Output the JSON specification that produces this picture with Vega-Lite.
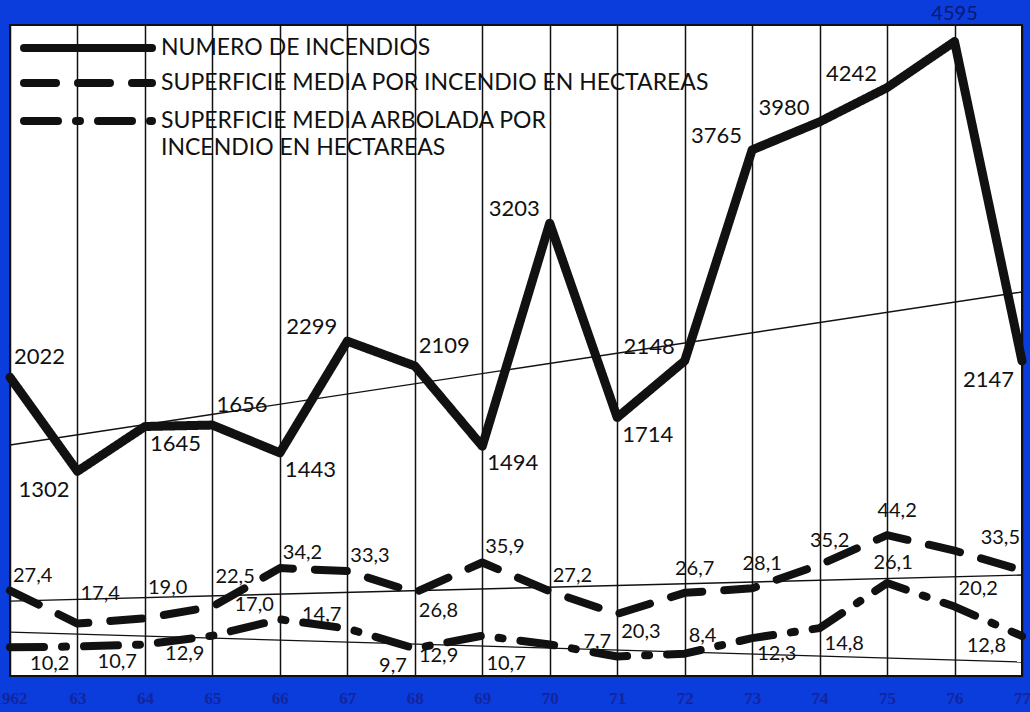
{
  "$schema": "https://vega.github.io/schema/vega-lite/v6.json",
  "width": 1012,
  "height": 651,
  "autosize": {"type": "none"},
  "padding": {"left": 10, "top": 25, "right": 8, "bottom": 36},
  "background": "#0b3cdc",
  "config": {
    "view": {"fill": "white", "stroke": "#111", "strokeWidth": 2},
    "locale": {"number": {"decimal": ",", "thousands": ".", "grouping": [3], "currency": ["", " €"]}},
    "text": {"font": "Lato", "fontSize": 20, "color": "#111"},
    "legend": {
      "orient": "none", "legendX": 10, "title": null, "padding": 0,
      "symbolType": "stroke", "symbolSize": 16384, "symbolStrokeWidth": 8, "symbolStrokeColor": "#111",
      "labelFont": "Lato", "labelFontSize": 23, "labelColor": "#111", "labelLimit": 900, "labelOffset": 5
    }
  },
  "datasets": {
    "fires": [
      {"year": 1962, "value": 2022, "series": "NUMERO DE INCENDIOS"},
      {"year": 1963, "value": 1302, "series": "NUMERO DE INCENDIOS"},
      {"year": 1964, "value": 1645, "series": "NUMERO DE INCENDIOS"},
      {"year": 1965, "value": 1656, "series": "NUMERO DE INCENDIOS"},
      {"year": 1966, "value": 1443, "series": "NUMERO DE INCENDIOS"},
      {"year": 1967, "value": 2299, "series": "NUMERO DE INCENDIOS"},
      {"year": 1968, "value": 2109, "series": "NUMERO DE INCENDIOS"},
      {"year": 1969, "value": 1494, "series": "NUMERO DE INCENDIOS"},
      {"year": 1970, "value": 3203, "series": "NUMERO DE INCENDIOS"},
      {"year": 1971, "value": 1714, "series": "NUMERO DE INCENDIOS"},
      {"year": 1972, "value": 2148, "series": "NUMERO DE INCENDIOS"},
      {"year": 1973, "value": 3765, "series": "NUMERO DE INCENDIOS"},
      {"year": 1974, "value": 3980, "series": "NUMERO DE INCENDIOS"},
      {"year": 1975, "value": 4242, "series": "NUMERO DE INCENDIOS"},
      {"year": 1976, "value": 4595, "series": "NUMERO DE INCENDIOS"},
      {"year": 1977, "value": 2147, "series": "NUMERO DE INCENDIOS"}
    ],
    "firesTrend": [{"year": 1962, "value": 1503}, {"year": 1977, "value": 2676}],
    "surf": [
      {"year": 1962, "value": 27.4, "series": "SUPERFICIE MEDIA POR INCENDIO EN HECTAREAS"},
      {"year": 1963, "value": 17.4, "series": "SUPERFICIE MEDIA POR INCENDIO EN HECTAREAS"},
      {"year": 1964, "value": 19.0, "series": "SUPERFICIE MEDIA POR INCENDIO EN HECTAREAS"},
      {"year": 1965, "value": 22.5, "series": "SUPERFICIE MEDIA POR INCENDIO EN HECTAREAS"},
      {"year": 1966, "value": 34.2, "series": "SUPERFICIE MEDIA POR INCENDIO EN HECTAREAS"},
      {"year": 1967, "value": 33.3, "series": "SUPERFICIE MEDIA POR INCENDIO EN HECTAREAS"},
      {"year": 1968, "value": 26.8, "series": "SUPERFICIE MEDIA POR INCENDIO EN HECTAREAS"},
      {"year": 1969, "value": 35.9, "series": "SUPERFICIE MEDIA POR INCENDIO EN HECTAREAS"},
      {"year": 1970, "value": 27.2, "series": "SUPERFICIE MEDIA POR INCENDIO EN HECTAREAS"},
      {"year": 1971, "value": 20.3, "series": "SUPERFICIE MEDIA POR INCENDIO EN HECTAREAS"},
      {"year": 1972, "value": 26.7, "series": "SUPERFICIE MEDIA POR INCENDIO EN HECTAREAS"},
      {"year": 1973, "value": 28.1, "series": "SUPERFICIE MEDIA POR INCENDIO EN HECTAREAS"},
      {"year": 1974, "value": 35.2, "series": "SUPERFICIE MEDIA POR INCENDIO EN HECTAREAS"},
      {"year": 1975, "value": 44.2, "series": "SUPERFICIE MEDIA POR INCENDIO EN HECTAREAS"},
      {"year": 1976, "value": 39.5, "series": "SUPERFICIE MEDIA POR INCENDIO EN HECTAREAS"},
      {"year": 1977, "value": 33.5, "series": "SUPERFICIE MEDIA POR INCENDIO EN HECTAREAS"}
    ],
    "surfTrend": [{"year": 1962, "value": 24.2}, {"year": 1977, "value": 32.1}],
    "arb": [
      {"year": 1962, "value": 10.0, "series": "SUPERFICIE MEDIA ARBOLADA POR INCENDIO EN HECTAREAS"},
      {"year": 1963, "value": 10.2, "series": "SUPERFICIE MEDIA ARBOLADA POR INCENDIO EN HECTAREAS"},
      {"year": 1964, "value": 10.7, "series": "SUPERFICIE MEDIA ARBOLADA POR INCENDIO EN HECTAREAS"},
      {"year": 1965, "value": 12.9, "series": "SUPERFICIE MEDIA ARBOLADA POR INCENDIO EN HECTAREAS"},
      {"year": 1966, "value": 17.0, "series": "SUPERFICIE MEDIA ARBOLADA POR INCENDIO EN HECTAREAS"},
      {"year": 1967, "value": 14.7, "series": "SUPERFICIE MEDIA ARBOLADA POR INCENDIO EN HECTAREAS"},
      {"year": 1968, "value": 9.7, "series": "SUPERFICIE MEDIA ARBOLADA POR INCENDIO EN HECTAREAS"},
      {"year": 1969, "value": 12.9, "series": "SUPERFICIE MEDIA ARBOLADA POR INCENDIO EN HECTAREAS"},
      {"year": 1970, "value": 10.7, "series": "SUPERFICIE MEDIA ARBOLADA POR INCENDIO EN HECTAREAS"},
      {"year": 1971, "value": 7.7, "series": "SUPERFICIE MEDIA ARBOLADA POR INCENDIO EN HECTAREAS"},
      {"year": 1972, "value": 8.4, "series": "SUPERFICIE MEDIA ARBOLADA POR INCENDIO EN HECTAREAS"},
      {"year": 1973, "value": 12.3, "series": "SUPERFICIE MEDIA ARBOLADA POR INCENDIO EN HECTAREAS"},
      {"year": 1974, "value": 14.8, "series": "SUPERFICIE MEDIA ARBOLADA POR INCENDIO EN HECTAREAS"},
      {"year": 1975, "value": 26.1, "series": "SUPERFICIE MEDIA ARBOLADA POR INCENDIO EN HECTAREAS"},
      {"year": 1976, "value": 20.2, "series": "SUPERFICIE MEDIA ARBOLADA POR INCENDIO EN HECTAREAS"},
      {"year": 1977, "value": 12.8, "series": "SUPERFICIE MEDIA ARBOLADA POR INCENDIO EN HECTAREAS"}
    ],
    "arbTrend": [{"year": 1962, "value": 13.8}, {"year": 1977, "value": 6.3}]
  },
  "encoding": {
    "x": {
      "field": "year", "type": "quantitative",
      "scale": {"domain": [1962, 1977], "nice": false, "zero": false},
      "axis": {
        "values": [1962, 1963, 1964, 1965, 1966, 1967, 1968, 1969, 1970, 1971, 1972, 1973, 1974, 1975, 1976, 1977],
        "format": "d",
        "labelExpr": "datum.value == 1962 ? datum.label : slice(datum.label, 2)",
        "grid": true, "gridColor": "#111", "gridWidth": 1.5, "gridOpacity": 1,
        "domain": false, "ticks": false, "title": null,
        "labelFont": "Liberation Sans Narrow", "labelFontWeight": "bold", "labelFontSize": 17,
        "labelColor": "#15259a", "labelPadding": 14, "labelFlush": false, "labelOverlap": false
      }
    }
  },
  "layer": [
    {
      "layer": [
        {
          "data": {"name": "firesTrend"},
          "mark": {"type": "line", "color": "#111", "strokeWidth": 1.4},
          "encoding": {"y": {"field": "value", "type": "quantitative", "scale": {"domain": [-267, 4722], "nice": false, "zero": false}, "axis": null}}
        },
        {
          "data": {"name": "fires"},
          "mark": {"type": "line", "color": "#111", "strokeWidth": 9, "strokeCap": "round", "strokeJoin": "round"},
          "encoding": {
            "y": {"field": "value", "type": "quantitative", "scale": {"domain": [-267, 4722], "nice": false, "zero": false}, "axis": null},
            "strokeDash": {
              "field": "series", "type": "nominal",
              "scale": {"domain": ["NUMERO DE INCENDIOS"], "range": [[1, 0]]},
              "legend": {"legendY": -45, "encode": {"symbols": {"update": {"strokeCap": {"value": "round"}}}}}
            }
          }
        },
        {
          "data": {"name": "fires"},
          "transform": [{"filter": {"field": "year", "oneOf": [1962, 1965, 1968]}}],
          "mark": {"type": "text", "align": "left", "dx": 4, "dy": -20, "fontSize": 22},
          "encoding": {"y": {"field": "value", "type": "quantitative", "scale": {"domain": [-267, 4722], "nice": false, "zero": false}, "axis": null}, "text": {"field": "value", "type": "quantitative", "format": "d"}}
        },
        {
          "data": {"name": "fires"},
          "transform": [{"filter": {"field": "year", "oneOf": [1964, 1966, 1969, 1971]}}],
          "mark": {"type": "text", "align": "left", "dx": 5, "dy": 17, "fontSize": 22},
          "encoding": {"y": {"field": "value", "type": "quantitative", "scale": {"domain": [-267, 4722], "nice": false, "zero": false}, "axis": null}, "text": {"field": "value", "type": "quantitative", "format": "d"}}
        },
        {
          "data": {"name": "fires"},
          "transform": [{"filter": {"field": "year", "oneOf": [1967, 1970, 1972, 1973, 1974, 1975]}}],
          "mark": {"type": "text", "align": "right", "dx": -10, "dy": -14, "fontSize": 22},
          "encoding": {"y": {"field": "value", "type": "quantitative", "scale": {"domain": [-267, 4722], "nice": false, "zero": false}, "axis": null}, "text": {"field": "value", "type": "quantitative", "format": "d"}}
        },
        {
          "data": {"name": "fires"},
          "transform": [{"filter": {"field": "year", "oneOf": [1963, 1977]}}],
          "mark": {"type": "text", "align": "right", "dx": -8, "dy": 19, "fontSize": 22},
          "encoding": {"y": {"field": "value", "type": "quantitative", "scale": {"domain": [-267, 4722], "nice": false, "zero": false}, "axis": null}, "text": {"field": "value", "type": "quantitative", "format": "d"}}
        },
        {
          "data": {"name": "fires"},
          "transform": [{"filter": {"field": "year", "oneOf": [1976]}}],
          "mark": {"type": "text", "align": "center", "dy": -28, "fontSize": 20, "color": "#0a1a70"},
          "encoding": {"y": {"field": "value", "type": "quantitative", "scale": {"domain": [-267, 4722], "nice": false, "zero": false}, "axis": null}, "text": {"field": "value", "type": "quantitative", "format": "d"}}
        }
      ]
    },
    {
      "layer": [
        {
          "data": {"name": "surfTrend"},
          "mark": {"type": "line", "color": "#111", "strokeWidth": 1.4},
          "encoding": {"y": {"field": "value", "type": "quantitative", "scale": {"domain": [1.5, 198.8], "nice": false, "zero": false}, "axis": null}}
        },
        {
          "data": {"name": "surf"},
          "mark": {"type": "line", "color": "#111", "strokeWidth": 8, "strokeCap": "round", "strokeJoin": "round"},
          "encoding": {
            "y": {"field": "value", "type": "quantitative", "scale": {"domain": [1.5, 198.8], "nice": false, "zero": false}, "axis": null},
            "strokeDash": {
              "field": "series", "type": "nominal",
              "scale": {"domain": ["SUPERFICIE MEDIA POR INCENDIO EN HECTAREAS"], "range": [[32, 22]]},
              "legend": {"legendY": -10, "encode": {"symbols": {"update": {"strokeCap": {"value": "round"}}}}}
            }
          }
        },
        {
          "data": {"name": "surf"},
          "transform": [{"filter": {"field": "year", "oneOf": [1962, 1966, 1967, 1969, 1970]}}],
          "mark": {"type": "text", "align": "left", "dx": 3, "dy": -15},
          "encoding": {"y": {"field": "value", "type": "quantitative", "scale": {"domain": [1.5, 198.8], "nice": false, "zero": false}, "axis": null}, "text": {"field": "value", "type": "quantitative", "format": ".1f"}}
        },
        {
          "data": {"name": "surf"},
          "transform": [{"filter": {"field": "year", "oneOf": [1963, 1964, 1965]}}],
          "mark": {"type": "text", "align": "left", "dx": 3, "dy": -30},
          "encoding": {"y": {"field": "value", "type": "quantitative", "scale": {"domain": [1.5, 198.8], "nice": false, "zero": false}, "axis": null}, "text": {"field": "value", "type": "quantitative", "format": ".1f"}}
        },
        {
          "data": {"name": "surf"},
          "transform": [{"filter": {"field": "year", "oneOf": [1968, 1971]}}],
          "mark": {"type": "text", "align": "left", "dx": 4, "dy": 18},
          "encoding": {"y": {"field": "value", "type": "quantitative", "scale": {"domain": [1.5, 198.8], "nice": false, "zero": false}, "axis": null}, "text": {"field": "value", "type": "quantitative", "format": ".1f"}}
        },
        {
          "data": {"name": "surf"},
          "transform": [{"filter": {"field": "year", "oneOf": [1972, 1973, 1974, 1975]}}],
          "mark": {"type": "text", "align": "center", "dx": 10, "dy": -24},
          "encoding": {"y": {"field": "value", "type": "quantitative", "scale": {"domain": [1.5, 198.8], "nice": false, "zero": false}, "axis": null}, "text": {"field": "value", "type": "quantitative", "format": ".1f"}}
        },
        {
          "data": {"name": "surf"},
          "transform": [{"filter": {"field": "year", "oneOf": [1977]}}],
          "mark": {"type": "text", "align": "right", "dx": -2, "dy": -32},
          "encoding": {"y": {"field": "value", "type": "quantitative", "scale": {"domain": [1.5, 198.8], "nice": false, "zero": false}, "axis": null}, "text": {"field": "value", "type": "quantitative", "format": ".1f"}}
        }
      ]
    },
    {
      "layer": [
        {
          "data": {"name": "arbTrend"},
          "mark": {"type": "line", "color": "#111", "strokeWidth": 1.4},
          "encoding": {"y": {"field": "value", "type": "quantitative", "scale": {"domain": [2.8, 166], "nice": false, "zero": false}, "axis": null}}
        },
        {
          "data": {"name": "arb"},
          "mark": {"type": "line", "color": "#111", "strokeWidth": 8, "strokeCap": "round", "strokeJoin": "round"},
          "encoding": {
            "y": {"field": "value", "type": "quantitative", "scale": {"domain": [2.8, 166], "nice": false, "zero": false}, "axis": null},
            "strokeDash": {
              "field": "series", "type": "nominal",
              "scale": {"domain": ["SUPERFICIE MEDIA ARBOLADA POR INCENDIO EN HECTAREAS"], "range": [[34, 18, 4, 18]]},
              "legend": {
                "legendY": 28,
                "labelExpr": "['SUPERFICIE MEDIA ARBOLADA POR', 'INCENDIO EN HECTAREAS']",
                "encode": {
                  "symbols": {"update": {"strokeCap": {"value": "round"}}},
                  "labels": {"update": {"lineHeight": {"value": 27}}}
                }
              }
            }
          }
        },
        {
          "data": {"name": "arb"},
          "transform": [{"filter": {"field": "year", "oneOf": [1963, 1964, 1965, 1968]}}],
          "mark": {"type": "text", "align": "right", "dx": -8, "dy": 18},
          "encoding": {"y": {"field": "value", "type": "quantitative", "scale": {"domain": [2.8, 166], "nice": false, "zero": false}, "axis": null}, "text": {"field": "value", "type": "quantitative", "format": ".1f"}}
        },
        {
          "data": {"name": "arb"},
          "transform": [{"filter": {"field": "year", "oneOf": [1966, 1967, 1971]}}],
          "mark": {"type": "text", "align": "right", "dx": -6, "dy": -14},
          "encoding": {"y": {"field": "value", "type": "quantitative", "scale": {"domain": [2.8, 166], "nice": false, "zero": false}, "axis": null}, "text": {"field": "value", "type": "quantitative", "format": ".1f"}}
        },
        {
          "data": {"name": "arb"},
          "transform": [{"filter": {"field": "year", "oneOf": [1969, 1970]}}],
          "mark": {"type": "text", "align": "right", "dx": -24, "dy": 20},
          "encoding": {"y": {"field": "value", "type": "quantitative", "scale": {"domain": [2.8, 166], "nice": false, "zero": false}, "axis": null}, "text": {"field": "value", "type": "quantitative", "format": ".1f"}}
        },
        {
          "data": {"name": "arb"},
          "transform": [{"filter": {"field": "year", "oneOf": [1972, 1976]}}],
          "mark": {"type": "text", "align": "left", "dx": 4, "dy": -18},
          "encoding": {"y": {"field": "value", "type": "quantitative", "scale": {"domain": [2.8, 166], "nice": false, "zero": false}, "axis": null}, "text": {"field": "value", "type": "quantitative", "format": ".1f"}}
        },
        {
          "data": {"name": "arb"},
          "transform": [{"filter": {"field": "year", "oneOf": [1973, 1974]}}],
          "mark": {"type": "text", "align": "left", "dx": 5, "dy": 16},
          "encoding": {"y": {"field": "value", "type": "quantitative", "scale": {"domain": [2.8, 166], "nice": false, "zero": false}, "axis": null}, "text": {"field": "value", "type": "quantitative", "format": ".1f"}}
        },
        {
          "data": {"name": "arb"},
          "transform": [{"filter": {"field": "year", "oneOf": [1975]}}],
          "mark": {"type": "text", "align": "center", "dx": 6, "dy": -20},
          "encoding": {"y": {"field": "value", "type": "quantitative", "scale": {"domain": [2.8, 166], "nice": false, "zero": false}, "axis": null}, "text": {"field": "value", "type": "quantitative", "format": ".1f"}}
        },
        {
          "data": {"name": "arb"},
          "transform": [{"filter": {"field": "year", "oneOf": [1977]}}],
          "mark": {"type": "text", "align": "right", "dx": -16, "dy": 10},
          "encoding": {"y": {"field": "value", "type": "quantitative", "scale": {"domain": [2.8, 166], "nice": false, "zero": false}, "axis": null}, "text": {"field": "value", "type": "quantitative", "format": ".1f"}}
        }
      ]
    }
  ],
  "resolve": {"scale": {"y": "independent", "strokeDash": "independent"}}
}
